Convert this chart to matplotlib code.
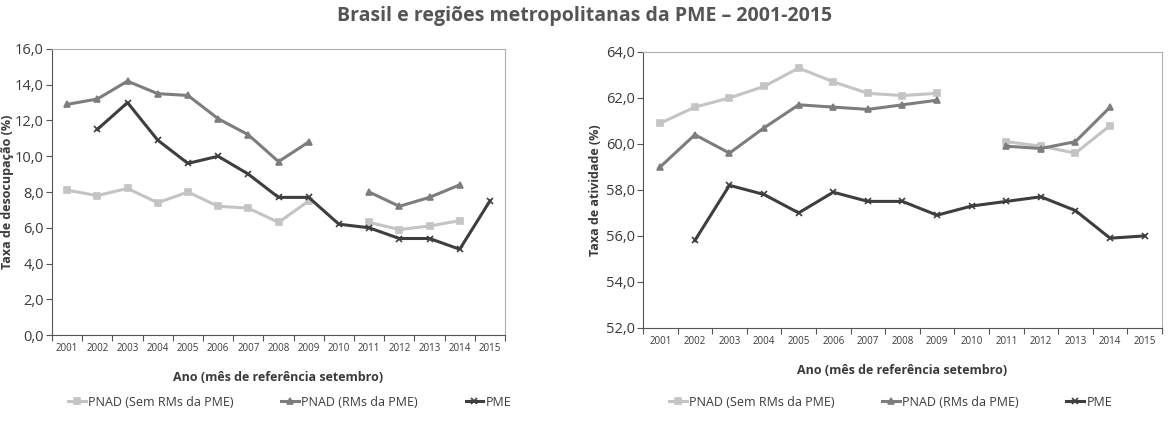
import matplotlib.pyplot as plt
import numpy as np

years = list(range(2001, 2016))
nan = np.nan

# Taxa de desocupação (%)
deso_pnad_sem = [8.1, 7.8, 8.2, 7.4, 8.0, 7.2, 7.1, 6.3, 7.5, nan, 6.3, 5.9, 6.1, 6.4, nan]
deso_pnad_rms = [12.9, 13.2, 14.2, 13.5, 13.4, 12.1, 11.2, 9.7, 10.8, nan, 8.0, 7.2, 7.7, 8.4, nan]
deso_pme = [nan, 11.5, 13.0, 10.9, 9.6, 10.0, 9.0, 7.7, 7.7, 6.2, 6.0, 5.4, 5.4, 4.8, 7.5]

# Taxa de atividade (%)
ativ_pnad_sem = [60.9, 61.6, 62.0, 62.5, 63.3, 62.7, 62.2, 62.1, 62.2, nan, 60.1, 59.9, 59.6, 60.8, nan]
ativ_pnad_rms = [59.0, 60.4, 59.6, 60.7, 61.7, 61.6, 61.5, 61.7, 61.9, nan, 59.9, 59.8, 60.1, 61.6, nan]
ativ_pme = [nan, 55.8, 58.2, 57.8, 57.0, 57.9, 57.5, 57.5, 56.9, 57.3, 57.5, 57.7, 57.1, 55.9, 56.0]

labels = ["PNAD (Sem RMs da PME)", "PNAD (RMs da PME)", "PME"]
colors = ["#c4c4c4", "#7d7d7d", "#3e3e3e"]
markers = ["s", "^", "x"]

plt.rcParams['font.family'] = ['Open Sans', 'DejaVu Sans']
text_col = "#3a3a3a"

fig = plt.figure(figsize=(11.69, 4.22), dpi=100)
fig.text(0.5, 0.962, "Brasil e regiões metropolitanas da PME – 2001-2015",
         ha='center', va='center', fontsize=14, fontweight='bold', color="#555555")

ax1 = fig.add_axes([0.0445, 0.206, 0.3875, 0.678])
ax2 = fig.add_axes([0.550, 0.223, 0.444, 0.654])

x = np.arange(len(years))


def draw(ax, series, ylim, ylabel, ylabel_x, legend_x):
    handles = []
    for s, lab, c, m in zip(series, labels, colors, markers):
        h, = ax.plot(x, s, color=c, lw=2.2, marker=m, ms=4, mew=1.2, label=lab)
        handles.append(h)
    ax.set_xlim(-0.5, len(years) - 0.5)
    ax.set_ylim(*ylim)
    yt = np.arange(ylim[0], ylim[1] + 0.1, 2)
    ax.set_yticks(yt)
    ax.set_yticklabels([f"{v:.1f}".replace('.', ',') for v in yt], fontsize=10.5, color=text_col)
    ax.set_xticks(np.arange(-0.5, len(years), 1))
    ax.set_xticklabels([])
    ax.set_xticks(x, minor=True)
    ax.set_xticklabels([str(y) for y in years], minor=True, fontsize=7, color=text_col)
    ax.tick_params(axis='x', which='minor', length=0, pad=6)
    ax.tick_params(axis='x', which='major', length=4, color="#555555")
    ax.tick_params(axis='y', length=4, color="#555555", pad=2)
    for sp in ['top', 'right']:
        ax.spines[sp].set_color("#b0b0b0")
    for sp in ['left', 'bottom']:
        ax.spines[sp].set_color("#555555")
    ax.set_ylabel(ylabel, fontsize=9, fontweight='bold', color=text_col)
    ax.yaxis.set_label_coords(ylabel_x, 0.5)
    ax.set_xlabel("Ano (mês de referência setembro)", fontsize=9, fontweight='bold',
                  color=text_col, labelpad=12)
    fig.legend(handles=handles, loc='center', bbox_to_anchor=(legend_x, 0.047), ncol=3,
               frameon=False, fontsize=9, handlelength=1.4, handletextpad=0.2,
               columnspacing=3.8, labelcolor=text_col)


draw(ax1, [deso_pnad_sem, deso_pnad_rms, deso_pme], (0, 16), "Taxa de desocupação (%)",
     -0.085, 0.248)
draw(ax2, [ativ_pnad_sem, ativ_pnad_rms, ativ_pme], (52, 64), "Taxa de atividade (%)",
     -0.078, 0.762)

fig.savefig("out.png", dpi=100)
